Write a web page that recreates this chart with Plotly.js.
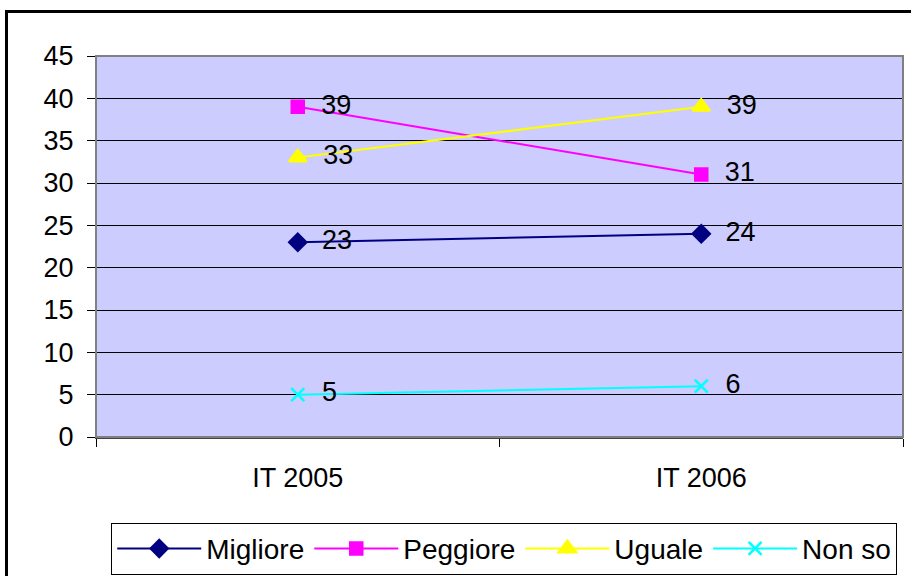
<!DOCTYPE html>
<html>
<head>
<meta charset="utf-8">
<script src="https://cdn.plot.ly/plotly-3.0.1.min.js"></script>
<style>
  html, body { margin: 0; padding: 0; background: #fff; }
  #wrap { position: relative; width: 911px; height: 576px; overflow: hidden; }
  #chart { width: 911px; height: 576px; }
  #frame { position: absolute; left: 5px; top: 10px; width: 920px; height: 600px; border: 3px solid #000; box-sizing: border-box; pointer-events: none; }
</style>
</head>
<body>
<div id="wrap">
  <div id="chart"></div>
  <div id="frame"></div>
</div>
<script>
const categories = ["IT 2005", "IT 2006"];
const migliore = [23, 24];
const peggiore = [39, 31];
const uguale = [33, 39];
const nonSo = [5, 6];
const seriesNames = ["Migliore", "Peggiore", "Uguale", "Non so"];
const yTicks = [0, 5, 10, 15, 20, 25, 30, 35, 40, 45];

const colors = ["#000080", "#FF00FF", "#FFFF00", "#00FFFF"];
const symbols = ["diamond", "square", "triangle-up", "x-thin"];
const sizes = [13, 12, 15, 13];
const values = [migliore, peggiore, uguale, nonSo];

const font = "Liberation Sans, Arial, sans-serif";

const traces = values.map((v, i) => ({
  type: "scatter",
  mode: "lines+markers+text",
  name: seriesNames[i],
  x: categories,
  y: v,
  text: v.map(String),
  texttemplate: "  %{text}",
  textposition: "middle right",
  textfont: { family: font, size: 27, color: "#000" },
  line: { color: colors[i], width: 2 },
  marker: { color: colors[i], symbol: symbols[i], size: sizes[i],
            line: { color: colors[i], width: 2.5 } },
  cliponaxis: false,
  hoverinfo: "skip"
}));

const layout = {
  width: 911, height: 576,
  margin: { l: 96, r: 8, t: 56, b: 139, autoexpand: false },
  paper_bgcolor: "#ffffff",
  plot_bgcolor: "#CCCCFF",
  showlegend: true,
  font: { family: font, size: 26, color: "#000" },
  xaxis: {
    type: "category",
    range: [-0.5, 1.5],
    tickson: "boundaries",
    ticks: "outside", ticklen: 8, tickcolor: "#000", tickwidth: 1,
    showline: true, linecolor: "#444", linewidth: 2,
    showgrid: false, zeroline: false,
    tickfont: { family: font, size: 27, color: "#000" },
    ticklabelstandoff: 16,
    automargin: false
  },
  yaxis: {
    range: [0, 45],
    tickvals: yTicks,
    ticktext: yTicks.map(String),
    ticks: "outside", ticklen: 8, tickcolor: "#000", tickwidth: 1,
    showline: true, linecolor: "#222", linewidth: 1,
    showgrid: true, gridcolor: "#000", gridwidth: 1,
    zeroline: false,
    tickfont: { family: font, size: 27, color: "#000" },
    ticklabelstandoff: 8,
    automargin: false
  },
  shapes: [
    { type: "rect", xref: "paper", yref: "paper", x0: 0, x1: 1, y0: 0, y1: 1,
      line: { color: "#808080", width: 2 }, fillcolor: "rgba(0,0,0,0)", layer: "above" }
  ],
  legend: {
    orientation: "h",
    xref: "container", yref: "container",
    x: 0.5535, xanchor: "center",
    y: 0.0925, yanchor: "top",
    bgcolor: "#fff",
    bordercolor: "#000", borderwidth: 1,
    font: { family: font, size: 28, color: "#000" },
    itemwidth: 84,
    tracegroupgap: 0
  }
};

Plotly.newPlot("chart", traces, layout, { staticPlot: true, displayModeBar: false });
</script>
</body>
</html>
